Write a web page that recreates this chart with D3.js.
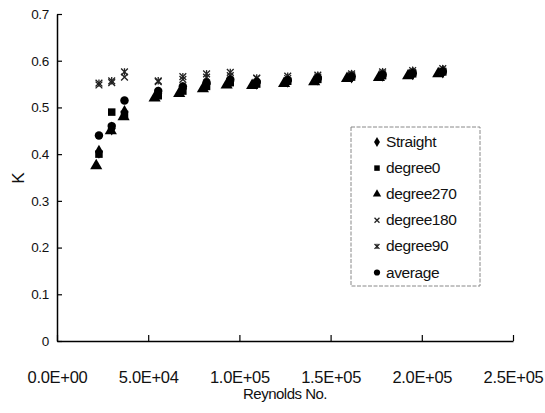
<!DOCTYPE html>
<html>
<head>
<script src="https://d3js.org/d3.v7.min.js"></script>
<style>
  body { margin: 0; background: #fff; }
  text { font-family: "Liberation Sans Narrow", "Liberation Sans", Arial, sans-serif; fill: #111; }
</style>
</head>
<body>
<div id="chart"></div>
<script>
// Reynolds numbers for each test point
const reynolds = [23000, 30000, 37000, 55500, 69000, 82000, 95000, 109500, 126500, 143000, 161500, 178500, 195000, 211500];
// triangles were read a little left of the rest
const reynolds270 = [21500, 29500, 36500, 53500, 67000, 80000, 93000, 107000, 124500, 141000, 159000, 176500, 192500, 209000];

const straight  = [0.405, 0.455, 0.49, 0.53, 0.54, 0.55, 0.556, 0.553, 0.557, 0.562, 0.566, 0.570, 0.573, 0.577];
const degree0   = [0.400, 0.490, 0.485, 0.525, 0.535, 0.545, 0.553, 0.550, 0.556, 0.560, 0.565, 0.568, 0.572, 0.576];
const degree270 = [0.375, 0.450, 0.480, 0.520, 0.530, 0.540, 0.548, 0.547, 0.551, 0.555, 0.562, 0.564, 0.568, 0.572];
const degree180 = [0.548, 0.553, 0.565, 0.555, 0.560, 0.565, 0.568, 0.562, 0.562, 0.565, 0.568, 0.572, 0.575, 0.578];
const degree90  = [0.552, 0.557, 0.576, 0.557, 0.566, 0.572, 0.575, 0.563, 0.567, 0.569, 0.572, 0.576, 0.579, 0.583];
const average   = [0.440, 0.460, 0.515, 0.535, 0.545, 0.553, 0.560, 0.555, 0.558, 0.563, 0.566, 0.570, 0.573, 0.577];

const xTicks = [0, 50000, 100000, 150000, 200000, 250000];
const xTickLabels = ["0.0E+00", "5.0E+04", "1.0E+05", "1.5E+05", "2.0E+05", "2.5E+05"];
const yTicks = [0, 0.1, 0.2, 0.3, 0.4, 0.5, 0.6, 0.7];

const series = [
  { name: "Straight",  x: reynolds,    y: straight,  sym: d3.symbolDiamond },
  { name: "degree0",   x: reynolds,    y: degree0,   sym: d3.symbolSquare },
  { name: "degree270", x: reynolds270, y: degree270, sym: d3.symbolTriangle },
  { name: "degree180", x: reynolds,    y: degree180, sym: "x" },
  { name: "degree90",  x: reynolds,    y: degree90,  sym: "star" },
  { name: "average",   x: reynolds,    y: average,   sym: d3.symbolCircle }
];

const width = 545, height = 413;
const svg = d3.select("#chart").append("svg")
  .attr("width", width).attr("height", height);

const x = d3.scaleLinear().domain([0, 250000]).range([57, 513]);
const y = d3.scaleLinear().domain([0, 0.7]).range([341, 14]);

// axes
const xAxis = svg.append("g").attr("transform", "translate(0,341)")
  .call(d3.axisBottom(x).tickValues(xTicks).tickSizeInner(-6).tickSizeOuter(0)
    .tickFormat((d, i) => xTickLabels[i]));
xAxis.select(".domain").attr("stroke", "#000").attr("stroke-width", 1.5);
xAxis.selectAll(".tick line").attr("stroke", "#000").attr("stroke-width", 1.2);
xAxis.selectAll(".tick text").attr("y", 42).attr("dy", 0)
  .style("font-size", "16.5px").style("letter-spacing", "-0.3px");

const yAxis = svg.append("g").attr("transform", "translate(57,0)")
  .call(d3.axisLeft(y).tickValues(yTicks).tickSizeInner(-5).tickSizeOuter(0)
    .tickFormat(d => d === 0 ? "0" : d3.format(".1f")(d)));
yAxis.select(".domain").attr("stroke", "#000").attr("stroke-width", 1.5);
yAxis.selectAll(".tick line").attr("stroke", "#000").attr("stroke-width", 1.2);
yAxis.selectAll(".tick text").attr("x", -8).style("font-size", "13.5px").style("letter-spacing", "-0.3px");

svg.append("text").attr("x", 285).attr("y", 399).attr("text-anchor", "middle")
  .style("font-size", "15px").style("letter-spacing", "-0.5px").text("Reynolds No.");
svg.append("text").attr("transform", "translate(24,178) rotate(-90)")
  .attr("text-anchor", "middle").style("font-size", "17px").text("K");

function drawMarker(g, sym, size) {
  if (sym === "x" || sym === "star") {
    const r = size * 0.45;
    g.append("path")
      .attr("d", `M${-r},${-r}L${r},${r}M${-r},${r}L${r},${-r}`)
      .attr("stroke", "#222").attr("stroke-width", 1.3).attr("fill", "none");
    if (sym === "star") {
      g.append("path").attr("d", `M0,${-r * 1.1}L0,${r * 1.1}`)
        .attr("stroke", "#222").attr("stroke-width", 1.3);
    }
  } else {
    g.append("path")
      .attr("d", d3.symbol().type(sym).size(size * size)())
      .attr("fill", "#000");
  }
}

// points
series.forEach(s => {
  s.y.forEach((v, i) => {
    const g = svg.append("g").attr("transform", `translate(${x(s.x[i])},${y(v)})`);
    drawMarker(g, s.sym, s.sym === d3.symbolTriangle ? 8 : 7.5);
  });
});

// legend
const legend = svg.append("g");
legend.append("rect").attr("x", 351).attr("y", 127).attr("width", 129).attr("height", 159)
  .attr("fill", "#fff").attr("stroke", "#888").attr("stroke-dasharray", "4,1.5").attr("stroke-width", 1);
series.forEach((s, i) => {
  const ly = 142 + i * 26.1;
  const g = legend.append("g").attr("transform", `translate(377,${ly})`);
  drawMarker(g, s.sym, 5.5);
  legend.append("text").attr("x", 386).attr("y", ly + 5)
    .style("font-size", "15.5px").style("letter-spacing", "-0.4px").text(s.name);
});
</script>
</body>
</html>
